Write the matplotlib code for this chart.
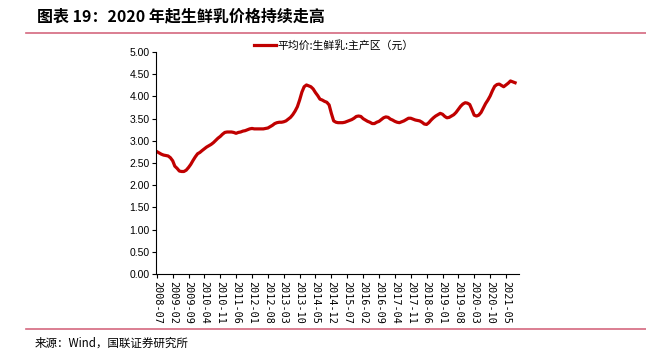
import matplotlib
matplotlib.use('Agg')
import matplotlib.pyplot as plt
import pandas as pd

plt.rcParams['font.family'] = ['Noto Sans CJK SC', 'DejaVu Sans']

# monthly price, 2008-07 .. 2021-09
start = '2008-07'
price = [
    2.76, 2.73, 2.70, 2.68, 2.67, 2.66, 2.62, 2.55, 2.43, 2.38, 2.32, 2.31,
    2.31, 2.34, 2.40, 2.47, 2.56, 2.64, 2.71, 2.74, 2.78, 2.82, 2.86, 2.89,
    2.92, 2.96, 3.01, 3.06, 3.10, 3.15, 3.19, 3.20, 3.20, 3.20, 3.19, 3.17,
    3.19, 3.20, 3.22, 3.23, 3.25, 3.27, 3.28, 3.27, 3.27, 3.27, 3.27, 3.27,
    3.28, 3.29, 3.32, 3.35, 3.39, 3.41, 3.42, 3.42, 3.43, 3.45, 3.49, 3.53,
    3.59, 3.67, 3.77, 3.92, 4.10, 4.22, 4.26, 4.24, 4.22, 4.17, 4.09, 4.02,
    3.94, 3.92, 3.89, 3.87, 3.81, 3.62, 3.45, 3.42, 3.41, 3.41, 3.41, 3.42,
    3.44, 3.46, 3.48, 3.51, 3.55, 3.56, 3.55, 3.50, 3.47, 3.44, 3.42, 3.39,
    3.39, 3.42, 3.44, 3.48, 3.52, 3.54, 3.53, 3.49, 3.47, 3.44, 3.42, 3.41,
    3.43, 3.45, 3.48, 3.51, 3.51, 3.49, 3.47, 3.46, 3.45, 3.42, 3.38, 3.37,
    3.41, 3.47, 3.52, 3.56, 3.59, 3.62, 3.60, 3.55, 3.52, 3.53, 3.56, 3.59,
    3.64, 3.71, 3.78, 3.83, 3.86, 3.85, 3.82, 3.70, 3.58, 3.56, 3.58, 3.64,
    3.74, 3.84, 3.92, 4.01, 4.13, 4.23, 4.27, 4.28, 4.25, 4.22, 4.26, 4.30,
    4.35, 4.33, 4.31,
]
dates = pd.date_range(start, periods=len(price), freq='MS')
tick_dates = pd.date_range(start, '2021-05', freq='7MS')
yticks = [0, 0.5, 1.0, 1.5, 2.0, 2.5, 3.0, 3.5, 4.0, 4.5, 5.0]

fig = plt.figure(figsize=(6.46, 3.57), dpi=100)
ax = fig.add_axes([0.242, 0.2325, 0.561, 0.6215])

ax.plot(dates, price, color='#c00000', lw=2.3, label='平均价:生鲜乳:主产区（元）')

ax.set_ylim(0, 5)
ax.set_yticks(yticks)
ax.set_yticklabels([f'{v:.2f}' for v in yticks], family='Liberation Sans', fontsize=7.5)
ax.set_xlim(dates[0] - pd.Timedelta(days=5), pd.Timestamp('2021-10-20'))
ax.set_xticks(tick_dates)
ax.set_xticklabels([d.strftime('%Y-%m') for d in tick_dates], rotation=-90,
                   family='DejaVu Sans Mono', fontsize=7.3)
ax.tick_params(direction='out', length=3, width=0.8, pad=2)
for s in ['top', 'right']:
    ax.spines[s].set_visible(False)

leg = ax.legend(loc='upper center', bbox_to_anchor=(0.49, 1.1), frameon=False,
                fontsize=7.8, handlelength=2.0, handletextpad=0.15)

fig.text(0.057, 0.955, '图表 19：2020 年起生鲜乳价格持续走高', fontsize=11.5,
         fontweight='bold', va='center', ha='left')
fig.add_artist(plt.Line2D([0.04, 1.0], [0.908, 0.908], color='#d4687f', lw=1.2))
fig.add_artist(plt.Line2D([0.04, 1.0], [0.079, 0.079], color='#d4687f', lw=1.2))
fig.text(0.054, 0.039, '来源：Wind，国联证券研究所', fontsize=8.3, va='center', ha='left')

fig.savefig('out.png', dpi=100)
